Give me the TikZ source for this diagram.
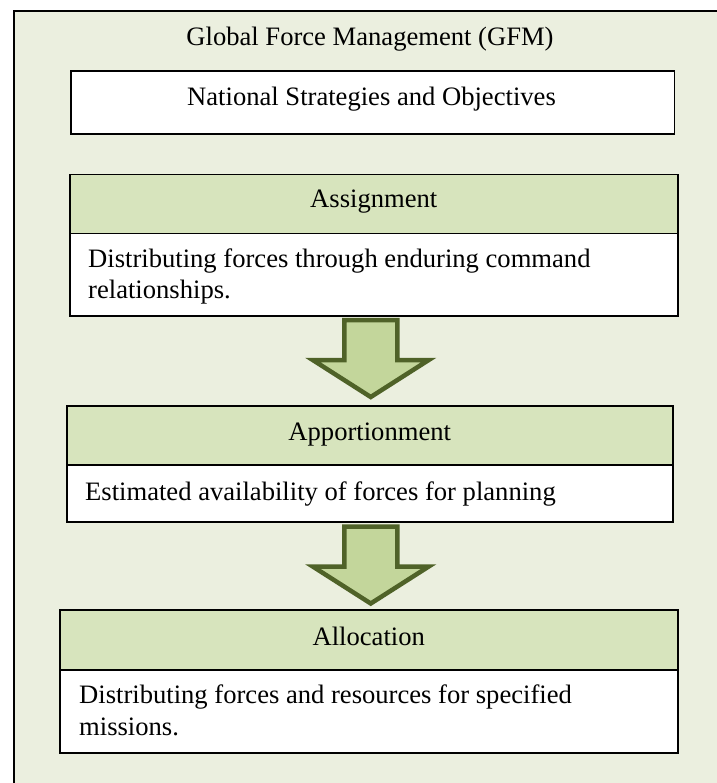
\documentclass[tikz,border=0pt]{standalone}
\usepackage{fontspec}
\setmainfont{Liberation Serif}
\usetikzlibrary{calc}
\definecolor{bgc}{HTML}{EBEFDF}
\definecolor{hdr}{HTML}{D7E4BD}
\definecolor{arrfill}{HTML}{C3D69B}
\definecolor{arrline}{HTML}{4F6228}
\begin{document}
\begin{tikzpicture}[x=1pt,y=-1pt,
  box/.style={draw=black, line width=1.5pt, rectangle, inner sep=0pt, anchor=north west},
  hdrbox/.style={box, fill=hdr},
  bodybox/.style={box, fill=white},
  txt/.style={font=\fontsize{26.6}{30}\selectfont, inner sep=0pt},
  fatarrow/.style={fill=arrfill, draw=arrline, line width=4.5pt, line join=miter}]
\useasboundingbox (0,0) rectangle (716,783);
\node[draw=black, fill=bgc, line width=2pt, minimum width=720, minimum height=800, anchor=north west, inner sep=0pt] (frame) at (13,10) {};
\node[txt, anchor=base] (title) at (370,46) {Global Force Management (GFM)};
% National
\node[bodybox, minimum width=603.5, minimum height=63] (nat) at (70,70.5) {};
\node[txt, anchor=base] (natT) at ($(nat.north)+(-1,35.5)$) {National Strategies and Objectives};
% Assignment
\node[hdrbox, minimum width=608, minimum height=59] (asgnH) at (69,174) {};
\node[bodybox, minimum width=608, minimum height=82] (asgnB) at (69,233) {};
\node[txt, anchor=base] (asgnHT) at ($(asgnH.north)+(0,34)$) {Assignment};
\node[txt, anchor=base west] (asgnT1) at ($(asgnB.north west)+(19,35)$) {Distributing forces through enduring command};
\node[txt, anchor=base west] (asgnT2) at ($(asgnB.north west)+(19,65)$) {relationships.};
% Apportionment
\node[hdrbox, minimum width=606, minimum height=59] (appH) at (66,405) {};
\node[bodybox, minimum width=606, minimum height=57] (appB) at (66,464) {};
\node[txt, anchor=base] (appHT) at ($(appH.north)+(0,35)$) {Apportionment};
\node[txt, anchor=base west] (appT1) at ($(appB.north west)+(19,36)$) {Estimated availability of forces for planning};
% Allocation
\node[hdrbox, minimum width=618, minimum height=60] (allH) at (59,609) {};
\node[bodybox, minimum width=618, minimum height=83] (allB) at (59,669) {};
\node[txt, anchor=base] (allHT) at ($(allH.north)+(0,36)$) {Allocation};
\node[txt, anchor=base west] (allT1) at ($(allB.north west)+(20,34)$) {Distributing forces and resources for specified};
\node[txt, anchor=base west] (allT2) at ($(allB.north west)+(20,66)$) {missions.};
% Arrows
\coordinate (a1top) at ($(asgnB.south)+(-3,3.5)$);
\coordinate (a1tip) at ($(appH.north)+(1,-8)$);
\draw[fatarrow] ($(a1top)+(-26.5,0)$) -- ($(a1top)+(-26.5,40)$) -- ($(a1top)+(-58,40)$) -- (a1tip) -- ($(a1top)+(58,40)$) -- ($(a1top)+(26.5,40)$) -- ($(a1top)+(26.5,0)$) -- cycle;
\coordinate (a2top) at ($(appB.south)+(1,4)$);
\coordinate (a2tip) at ($(allH.north)+(2,-5.5)$);
\draw[fatarrow] ($(a2top)+(-26.5,0)$) -- ($(a2top)+(-26.5,40)$) -- ($(a2top)+(-58,40)$) -- (a2tip) -- ($(a2top)+(58,40)$) -- ($(a2top)+(26.5,40)$) -- ($(a2top)+(26.5,0)$) -- cycle;
\end{tikzpicture}
\end{document}
